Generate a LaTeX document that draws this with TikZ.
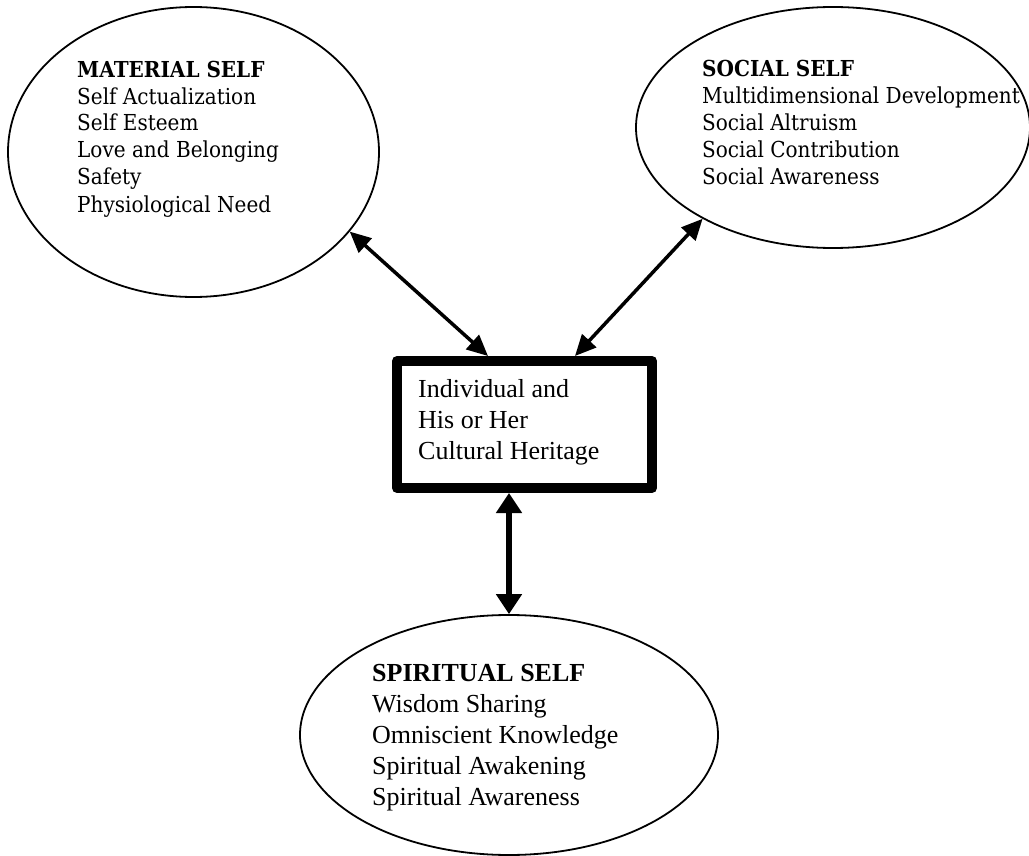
\documentclass[tikz,border=0pt]{standalone}
\usepackage{fontspec}
\setmainfont{Liberation Serif}
\newfontfamily\ellfont[FakeStretch=0.91]{DejaVu Serif}
\usetikzlibrary{arrows.meta,shapes.geometric}

\begin{document}
\begin{tikzpicture}[x=1pt,y=-1pt,
    self/.style={draw, ellipse, line width=1.8pt, inner sep=0pt},
    items/.style={anchor=base west, align=left, inner sep=0pt},
    link/.style={{Triangle[length=21pt,width=19pt]}-{Triangle[length=21pt,width=19pt]},
      line width=3.5pt},
    biglink/.style={{Triangle[length=20pt,width=25pt]}-{Triangle[length=20pt,width=25pt]},
      line width=6.5pt}]

  \useasboundingbox (0,0) rectangle (1029,856);

  %% the three selves
  \node[self, minimum width=371pt, minimum height=290pt] (material) at (193.5,152) {};
  \node[self, minimum width=394pt, minimum height=241pt] (social) at (833,127.5) {};
  \node[self, minimum width=418pt, minimum height=240pt] (spiritual) at (509,735) {};

  \node[draw, line width=10pt, line join=round, inner sep=0pt,
    minimum width=255pt, minimum height=127pt] (heritage) at (524.5,424.5) {};

  %% text blocks, placed by the baseline of their last line
  \node[items, font=\ellfont\fontsize{22}{27}\selectfont] (materialtext) at (77,212)
    {\textbf{MATERIAL SELF}\\Self Actualization\\Self Esteem\\Love and Belonging\\
     Safety\\Physiological Need};
  \node[items, font=\ellfont\fontsize{22}{27}\selectfont] (socialtext) at (702,185)
    {\textbf{SOCIAL SELF}\\Multidimensional Development\\Social Altruism\\
     Social Contribution\\Social Awareness};
  \node[items, font=\fontsize{26}{31}\selectfont] (spiritualtext) at (372,805)
    {\textbf{SPIRITUAL SELF}\\Wisdom Sharing\\Omniscient Knowledge\\
     Spiritual Awakening\\Spiritual Awareness};
  \node[items, font=\fontsize{26}{31}\selectfont] (heritagetext) at (418,459)
    {Individual and\\His or Her\\Cultural Heritage};

  %% links
  \draw[link] (material.-27.5) -- ([xshift=-36.5pt]heritage.north);
  \draw[link] (social.-145.4) -- ([xshift=50.5pt]heritage.north);
  \draw[biglink] ([xshift=-15.5pt]heritage.south) -- (spiritual.north);

\end{tikzpicture}
\end{document}
